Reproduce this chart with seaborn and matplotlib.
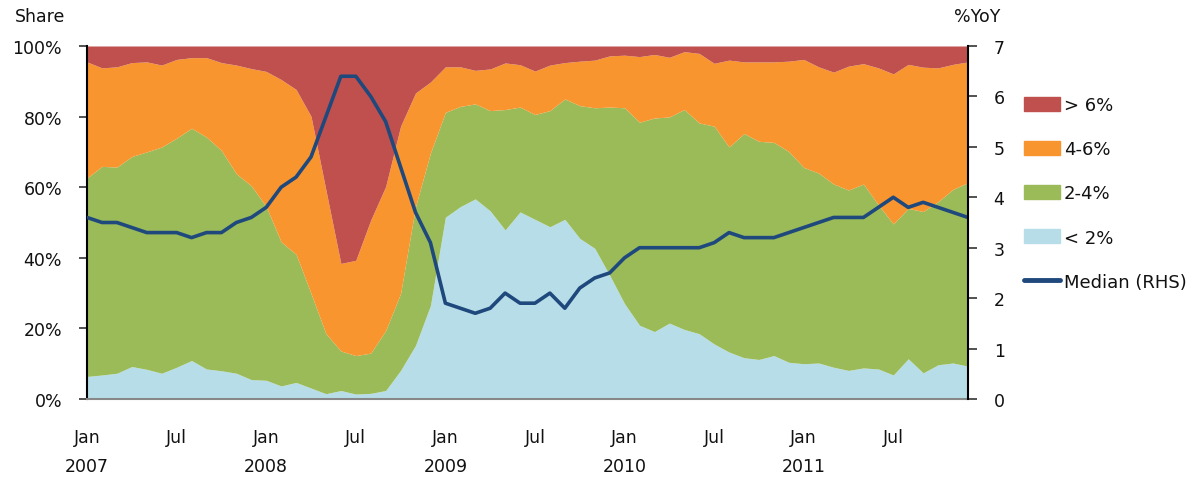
import numpy as np
import pandas as pd
import matplotlib
matplotlib.use("Agg")
import matplotlib.pyplot as plt
from matplotlib.patches import Patch
from matplotlib.lines import Line2D
import seaborn as sns

# monthly data, Jan 2007 - Dec 2011
months = pd.date_range("2007-01-01", "2011-12-01", freq="MS")

# share of items by inflation bucket (%)
under_2 = [6.4, 6.8, 7.3, 9.2, 8.4, 7.3, 9.0, 10.9, 8.5, 8.0, 7.3, 5.5,
           5.3, 3.7, 4.7, 3.1, 1.5, 2.4, 1.4, 1.6, 2.4, 8.1, 15.2, 26.5,
           51.5, 54.5, 56.7, 53.3, 47.9, 53.0, 50.9, 48.8, 50.9, 45.5, 42.7, 35.1,
           27.0, 20.9, 19.1, 21.5, 19.7, 18.5, 15.6, 13.3, 11.7, 11.2, 12.3, 10.4,
           10.0, 10.2, 9.0, 8.1, 8.8, 8.5, 6.8, 11.4, 7.4, 9.7, 10.2, 9.3]
from_2_to_4 = [56.2, 59.1, 58.4, 59.5, 61.6, 64.1, 64.9, 65.8, 65.7, 62.4, 56.5, 54.9,
               49.2, 40.8, 36.3, 26.8, 17.0, 11.2, 10.9, 11.4, 17.0, 21.8, 39.3, 43.2,
               29.7, 28.4, 26.9, 28.4, 34.1, 29.7, 29.7, 32.9, 34.1, 37.6, 39.8, 47.6,
               55.5, 57.5, 60.5, 58.4, 62.3, 59.7, 61.7, 58.1, 63.5, 61.8, 60.4, 59.7,
               55.6, 53.8, 51.9, 51.1, 52.1, 46.5, 42.8, 42.6, 45.7, 46.2, 49.2, 52.0]
from_4_to_6 = [32.9, 27.9, 28.4, 26.6, 25.5, 23.2, 22.3, 20.0, 22.5, 24.9, 30.8, 33.2,
               38.3, 46.0, 46.7, 50.2, 40.7, 24.8, 27.0, 37.7, 40.8, 47.4, 32.2, 20.1,
               12.9, 11.2, 9.5, 11.8, 13.2, 12.0, 12.3, 12.9, 10.3, 12.6, 13.5, 14.5,
               14.9, 18.6, 18.0, 16.9, 16.4, 19.7, 17.8, 24.6, 20.3, 22.5, 22.8, 25.6,
               30.6, 30.1, 31.7, 35.1, 34.1, 38.8, 42.5, 40.8, 40.9, 37.9, 35.4, 34.2]
over_6 = [4.5, 6.2, 5.9, 4.7, 4.5, 5.4, 3.8, 3.3, 3.3, 4.7, 5.4, 6.4,
          7.2, 9.5, 12.3, 19.9, 40.8, 61.6, 60.7, 49.3, 39.8, 22.7, 13.3, 10.2,
          5.9, 5.9, 6.9, 6.5, 4.8, 5.3, 7.1, 5.4, 4.7, 4.3, 4.0, 2.8,
          2.6, 3.0, 2.4, 3.2, 1.6, 2.1, 4.9, 4.0, 4.5, 4.5, 4.5, 4.3,
          3.8, 5.9, 7.4, 5.7, 5.0, 6.2, 7.9, 5.2, 6.0, 6.2, 5.2, 4.5]

# median inflation, %YoY (right axis)
median_yoy = [3.6, 3.5, 3.5, 3.4, 3.3, 3.3, 3.3, 3.2, 3.3, 3.3, 3.5, 3.6,
              3.8, 4.2, 4.4, 4.8, 5.6, 6.4, 6.4, 6.0, 5.5, 4.6, 3.7, 3.1,
              1.9, 1.8, 1.7, 1.8, 2.1, 1.9, 1.9, 2.1, 1.8, 2.2, 2.4, 2.5,
              2.8, 3.0, 3.0, 3.0, 3.0, 3.0, 3.1, 3.3, 3.2, 3.2, 3.2, 3.3,
              3.4, 3.5, 3.6, 3.6, 3.6, 3.8, 4.0, 3.8, 3.9, 3.8, 3.7, 3.6]

labels = ["< 2%", "2-4%", "4-6%", "> 6%"]
colors = ["#B7DEE8", "#9BBB59", "#F9952F", "#C0504D"]
line_color = "#1F497D"

df = pd.DataFrame({"idx": np.arange(len(months)), "median": median_yoy})

sns.set_style("white")
plt.rcParams["font.family"] = ["DejaVu Sans"]
plt.rcParams["text.color"] = "#111111"
plt.rcParams["xtick.labelcolor"] = "#111111"
plt.rcParams["ytick.labelcolor"] = "#111111"

fig = plt.figure(figsize=(11.99, 4.81), dpi=100)
ax = fig.add_axes([0.0726, 0.1684, 0.7347, 0.7339])

shares = np.array([under_2, from_2_to_4, from_4_to_6, over_6]) / 100.0
ax.stackplot(df["idx"], shares, colors=colors, linewidth=0)

ax.set_xlim(0, len(months) - 1)
ax.set_ylim(0, 1)
ax.set_yticks(np.arange(0, 1.01, 0.2))
ax.set_yticklabels([f"{int(v * 100)}%" for v in np.arange(0, 1.01, 0.2)], fontsize=12.5)

jan_pos = [i for i, m in enumerate(months) if m.month == 1]
jul_pos = [i for i, m in enumerate(months) if m.month == 7]
ax.set_xticks(jan_pos)
ax.set_xticklabels(["Jan"] * len(jan_pos), fontsize=12.5)
ax.set_xticks(jul_pos, minor=True)
ax.set_xticklabels(["Jul"] * len(jul_pos), minor=True, fontsize=12.5)
for p in jan_pos:
    ax.text(p, -0.19, str(months[p].year), transform=ax.get_xaxis_transform(),
            ha="center", va="center", fontsize=12.5)

ax.tick_params(axis="x", which="major", length=7, width=1.2, color="#888888", pad=14)
ax.tick_params(axis="x", which="minor", length=0, pad=21)
ax.tick_params(axis="y", length=6, width=1.2, color="#333333", pad=12, left=True)

ax.spines["top"].set_visible(False)
ax.spines["right"].set_visible(False)
ax.spines["bottom"].set_color("#888888")
ax.spines["bottom"].set_linewidth(1.5)
ax.spines["left"].set_color("black")
ax.spines["left"].set_linewidth(1.5)
ax.set_xlabel("")
ax.set_ylabel("")

ax2 = ax.twinx()
sns.lineplot(data=df, x="idx", y="median", ax=ax2, color=line_color, linewidth=2.6)
ax2.set_ylim(0, 7)
ax2.set_yticks(range(0, 8))
ax2.set_yticklabels([str(v) for v in range(0, 8)], fontsize=12.5)
ax2.tick_params(axis="y", length=6.5, width=1.2, color="#333333", pad=12, right=True)
for s in ["top", "left", "bottom"]:
    ax2.spines[s].set_visible(False)
ax2.spines["right"].set_color("black")
ax2.spines["right"].set_linewidth(1.5)
ax2.set_xlabel("")
ax2.set_ylabel("")

fig.text(15 / 1199, 1 - 17 / 481, "Share", fontsize=12.5, ha="left", va="center")
fig.text(954 / 1199, 1 - 17 / 481, "%YoY", fontsize=12.5, ha="left", va="center")

handles = [Patch(color=c) for c in colors[::-1]]
handles.append(Line2D([0], [0], color=line_color, linewidth=3.5))
fig.legend(handles, labels[::-1] + ["Median (RHS)"],
           loc="upper left", bbox_to_anchor=(1024 / 1199, 1 - 97 / 481),
           frameon=False, fontsize=13, handlelength=2.0, handleheight=0.85,
           handletextpad=0.2, labelspacing=1.45, borderpad=0, borderaxespad=0,
           labelcolor="#111111")

fig.savefig("out.png", dpi=100)
